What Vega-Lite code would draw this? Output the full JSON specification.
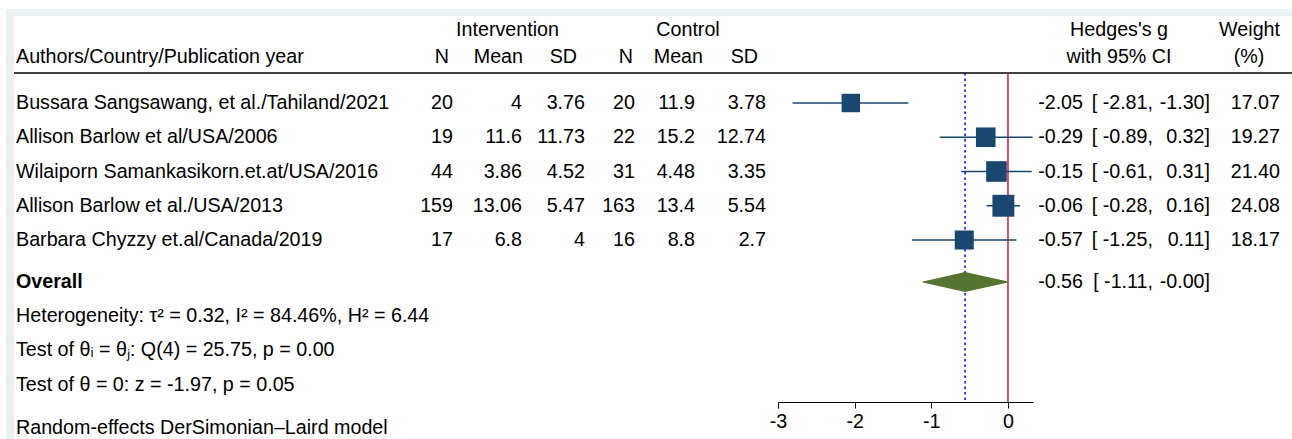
{
  "$schema": "https://vega.github.io/schema/vega-lite/v6.json",
  "background": "#FFFFFF",
  "padding": {"top": 9, "left": 6, "right": 0, "bottom": 0},
  "spacing": 0,
  "bounds": "flush",
  "config": {
    "view": {"stroke": null},
    "text": {"font": "Liberation Sans", "fontSize": 19.7, "color": "#000000", "baseline": "middle"}
  },
  "datasets": {
    "studies": [
      {"row": "s1", "study": "Bussara Sangsawang, et al./Tahiland/2021", "n1": "20", "m1": "4", "sd1": "3.76", "n2": "20", "m2": "11.9", "sd2": "3.78", "g": -2.05, "lo": -2.81, "hi": -1.30, "w": 17.07, "gs": "-2.05", "los": "[ -2.81,", "his": "-1.30]", "ws": "17.07"},
      {"row": "s2", "study": "Allison Barlow et al/USA/2006", "n1": "19", "m1": "11.6", "sd1": "11.73", "n2": "22", "m2": "15.2", "sd2": "12.74", "g": -0.29, "lo": -0.89, "hi": 0.32, "w": 19.27, "gs": "-0.29", "los": "[ -0.89,", "his": "0.32]", "ws": "19.27"},
      {"row": "s3", "study": "Wilaiporn Samankasikorn.et.at/USA/2016", "n1": "44", "m1": "3.86", "sd1": "4.52", "n2": "31", "m2": "4.48", "sd2": "3.35", "g": -0.15, "lo": -0.61, "hi": 0.31, "w": 21.40, "gs": "-0.15", "los": "[ -0.61,", "his": "0.31]", "ws": "21.40"},
      {"row": "s4", "study": "Allison Barlow et al./USA/2013", "n1": "159", "m1": "13.06", "sd1": "5.47", "n2": "163", "m2": "13.4", "sd2": "5.54", "g": -0.06, "lo": -0.28, "hi": 0.16, "w": 24.08, "gs": "-0.06", "los": "[ -0.28,", "his": "0.16]", "ws": "24.08"},
      {"row": "s5", "study": "Barbara Chyzzy et.al/Canada/2019", "n1": "17", "m1": "6.8", "sd1": "4", "n2": "16", "m2": "8.8", "sd2": "2.7", "g": -0.57, "lo": -1.25, "hi": 0.11, "w": 18.17, "gs": "-0.57", "los": "[ -1.25,", "his": "0.11]", "ws": "18.17"}
    ],
    "overall": [
      {"row": "ov", "study": "Overall", "g": -0.56, "lo": -1.11, "hi": 0, "gs": "-0.56", "los": "[ -1.11,", "his": "-0.00]"}
    ],
    "notes": [
      {"row": "het", "text": "Heterogeneity: τ² = 0.32, I² = 84.46%, H² = 6.44"},
      {"row": "t1", "text": "Test of θᵢ = θⱼ: Q(4) = 25.75, p = 0.00"},
      {"row": "t2", "text": "Test of θ = 0: z = -1.97, p = 0.05"}
    ],
    "model": [
      {"row": "mod", "text": "Random-effects DerSimonian–Laird model"}
    ]
  },
  "hconcat": [
    {"width": 8, "height": 430, "view": {"fill": "#EAF1F3", "stroke": null}, "data": {"values": []}, "mark": "point"},
    {
      "spacing": 0,
      "bounds": "flush",
      "vconcat": [
        {"width": 1278, "height": 7, "view": {"fill": "#EAF1F3", "stroke": null}, "data": {"values": []}, "mark": "point"},
        {
          "spacing": 0,
          "bounds": "flush",
          "hconcat": [
            {
              "width": 386, "height": 423,
              "layer": [
                {"data": {"values": [{"row": "h2"}]}, "mark": {"type": "rule", "color": "#000000", "strokeWidth": 1.5, "yOffset": 4.25}, "encoding": {"y": {"field": "row", "type": "nominal", "scale": {"type": "point", "domain": ["h1","h2","s1","s2","s3","s4","s5","ov","het","t1","t2","mod"], "range": [18.5, 395.25], "padding": 0}, "axis": null}}},
                {"data": {"values": [{"row": "h2", "label": "Authors/Country/Publication year"}]}, "mark": {"type": "text", "align": "left", "dx": 2, "dy": -11.75}, "encoding": {"x": {"datum": "L", "type": "nominal", "scale": {"type": "point", "domain": ["L"], "padding": 0, "align": 0}, "axis": null}, "y": {"field": "row", "type": "nominal", "scale": {"type": "point", "domain": ["h1","h2","s1","s2","s3","s4","s5","ov","het","t1","t2","mod"], "range": [18.5, 395.25], "padding": 0}, "axis": null}, "text": {"field": "label"}}},
                {"data": {"name": "studies"}, "mark": {"type": "text", "align": "left", "dx": 2}, "encoding": {"x": {"datum": "L", "type": "nominal", "scale": {"type": "point", "domain": ["L"], "padding": 0, "align": 0}, "axis": null}, "y": {"field": "row", "type": "nominal", "scale": {"type": "point", "domain": ["h1","h2","s1","s2","s3","s4","s5","ov","het","t1","t2","mod"], "range": [18.5, 395.25], "padding": 0}, "axis": null}, "text": {"field": "study"}}},
                {"data": {"name": "overall"}, "mark": {"type": "text", "align": "left", "dx": 2, "dy": 7.75, "fontWeight": "bold"}, "encoding": {"x": {"datum": "L", "type": "nominal", "scale": {"type": "point", "domain": ["L"], "padding": 0, "align": 0}, "axis": null}, "y": {"field": "row", "type": "nominal", "scale": {"type": "point", "domain": ["h1","h2","s1","s2","s3","s4","s5","ov","het","t1","t2","mod"], "range": [18.5, 395.25], "padding": 0}, "axis": null}, "text": {"field": "study"}}},
                {"data": {"name": "notes"}, "mark": {"type": "text", "align": "left", "dx": 2, "dy": 7.5}, "encoding": {"x": {"datum": "L", "type": "nominal", "scale": {"type": "point", "domain": ["L"], "padding": 0, "align": 0}, "axis": null}, "y": {"field": "row", "type": "nominal", "scale": {"type": "point", "domain": ["h1","h2","s1","s2","s3","s4","s5","ov","het","t1","t2","mod"], "range": [18.5, 395.25], "padding": 0}, "axis": null}, "text": {"field": "text"}}},
                {"data": {"name": "model"}, "mark": {"type": "text", "align": "left", "dx": 2, "dy": 16.5}, "encoding": {"x": {"datum": "L", "type": "nominal", "scale": {"type": "point", "domain": ["L"], "padding": 0, "align": 0}, "axis": null}, "y": {"field": "row", "type": "nominal", "scale": {"type": "point", "domain": ["h1","h2","s1","s2","s3","s4","s5","ov","het","t1","t2","mod"], "range": [18.5, 395.25], "padding": 0}, "axis": null}, "text": {"field": "text"}}}
              ]
            },
            {
              "width": 53, "height": 423,
              "layer": [
                {"data": {"values": [{"row": "h2"}]}, "mark": {"type": "rule", "color": "#000000", "strokeWidth": 1.5, "yOffset": 4.25}, "encoding": {"y": {"field": "row", "type": "nominal", "scale": {"type": "point", "domain": ["h1","h2","s1","s2","s3","s4","s5","ov","het","t1","t2","mod"], "range": [18.5, 395.25], "padding": 0}, "axis": null}}},
                {"data": {"values": [{"row": "h2", "label": "N"}]}, "mark": {"type": "text", "align": "right", "dx": -4, "dy": -11.75}, "encoding": {"x": {"value": "width"}, "y": {"field": "row", "type": "nominal", "scale": {"type": "point", "domain": ["h1","h2","s1","s2","s3","s4","s5","ov","het","t1","t2","mod"], "range": [18.5, 395.25], "padding": 0}, "axis": null}, "text": {"field": "label"}}},
                {"data": {"name": "studies"}, "mark": {"type": "text", "align": "right"}, "encoding": {"x": {"value": "width"}, "y": {"field": "row", "type": "nominal", "scale": {"type": "point", "domain": ["h1","h2","s1","s2","s3","s4","s5","ov","het","t1","t2","mod"], "range": [18.5, 395.25], "padding": 0}, "axis": null}, "text": {"field": "n1"}}}
              ]
            },
            {
              "width": 69, "height": 423,
              "layer": [
                {"data": {"values": [{"row": "h2"}]}, "mark": {"type": "rule", "color": "#000000", "strokeWidth": 1.5, "yOffset": 4.25}, "encoding": {"y": {"field": "row", "type": "nominal", "scale": {"type": "point", "domain": ["h1","h2","s1","s2","s3","s4","s5","ov","het","t1","t2","mod"], "range": [18.5, 395.25], "padding": 0}, "axis": null}}},
                {"data": {"values": [{"row": "h1", "label": "Intervention"}]}, "mark": {"type": "text", "align": "center", "dx": -14.5, "dy": -4.5}, "encoding": {"x": {"value": "width"}, "y": {"field": "row", "type": "nominal", "scale": {"type": "point", "domain": ["h1","h2","s1","s2","s3","s4","s5","ov","het","t1","t2","mod"], "range": [18.5, 395.25], "padding": 0}, "axis": null}, "text": {"field": "label"}}},
                {"data": {"values": [{"row": "h2", "label": "Mean"}]}, "mark": {"type": "text", "align": "right", "dx": 1, "dy": -11.75}, "encoding": {"x": {"value": "width"}, "y": {"field": "row", "type": "nominal", "scale": {"type": "point", "domain": ["h1","h2","s1","s2","s3","s4","s5","ov","het","t1","t2","mod"], "range": [18.5, 395.25], "padding": 0}, "axis": null}, "text": {"field": "label"}}},
                {"data": {"name": "studies"}, "mark": {"type": "text", "align": "right"}, "encoding": {"x": {"value": "width"}, "y": {"field": "row", "type": "nominal", "scale": {"type": "point", "domain": ["h1","h2","s1","s2","s3","s4","s5","ov","het","t1","t2","mod"], "range": [18.5, 395.25], "padding": 0}, "axis": null}, "text": {"field": "m1"}}}
              ]
            },
            {
              "width": 63, "height": 423,
              "layer": [
                {"data": {"values": [{"row": "h2"}]}, "mark": {"type": "rule", "color": "#000000", "strokeWidth": 1.5, "yOffset": 4.25}, "encoding": {"y": {"field": "row", "type": "nominal", "scale": {"type": "point", "domain": ["h1","h2","s1","s2","s3","s4","s5","ov","het","t1","t2","mod"], "range": [18.5, 395.25], "padding": 0}, "axis": null}}},
                {"data": {"values": [{"row": "h2", "label": "SD"}]}, "mark": {"type": "text", "align": "right", "dx": -8, "dy": -11.75}, "encoding": {"x": {"value": "width"}, "y": {"field": "row", "type": "nominal", "scale": {"type": "point", "domain": ["h1","h2","s1","s2","s3","s4","s5","ov","het","t1","t2","mod"], "range": [18.5, 395.25], "padding": 0}, "axis": null}, "text": {"field": "label"}}},
                {"data": {"name": "studies"}, "mark": {"type": "text", "align": "right"}, "encoding": {"x": {"value": "width"}, "y": {"field": "row", "type": "nominal", "scale": {"type": "point", "domain": ["h1","h2","s1","s2","s3","s4","s5","ov","het","t1","t2","mod"], "range": [18.5, 395.25], "padding": 0}, "axis": null}, "text": {"field": "sd1"}}}
              ]
            },
            {
              "width": 50, "height": 423,
              "layer": [
                {"data": {"values": [{"row": "h2"}]}, "mark": {"type": "rule", "color": "#000000", "strokeWidth": 1.5, "yOffset": 4.25}, "encoding": {"y": {"field": "row", "type": "nominal", "scale": {"type": "point", "domain": ["h1","h2","s1","s2","s3","s4","s5","ov","het","t1","t2","mod"], "range": [18.5, 395.25], "padding": 0}, "axis": null}}},
                {"data": {"values": [{"row": "h2", "label": "N"}]}, "mark": {"type": "text", "align": "right", "dx": -2, "dy": -11.75}, "encoding": {"x": {"value": "width"}, "y": {"field": "row", "type": "nominal", "scale": {"type": "point", "domain": ["h1","h2","s1","s2","s3","s4","s5","ov","het","t1","t2","mod"], "range": [18.5, 395.25], "padding": 0}, "axis": null}, "text": {"field": "label"}}},
                {"data": {"name": "studies"}, "mark": {"type": "text", "align": "right"}, "encoding": {"x": {"value": "width"}, "y": {"field": "row", "type": "nominal", "scale": {"type": "point", "domain": ["h1","h2","s1","s2","s3","s4","s5","ov","het","t1","t2","mod"], "range": [18.5, 395.25], "padding": 0}, "axis": null}, "text": {"field": "n2"}}}
              ]
            },
            {
              "width": 60, "height": 423,
              "layer": [
                {"data": {"values": [{"row": "h2"}]}, "mark": {"type": "rule", "color": "#000000", "strokeWidth": 1.5, "yOffset": 4.25}, "encoding": {"y": {"field": "row", "type": "nominal", "scale": {"type": "point", "domain": ["h1","h2","s1","s2","s3","s4","s5","ov","het","t1","t2","mod"], "range": [18.5, 395.25], "padding": 0}, "axis": null}}},
                {"data": {"values": [{"row": "h1", "label": "Control"}]}, "mark": {"type": "text", "align": "center", "dx": -7, "dy": -4.5}, "encoding": {"x": {"value": "width"}, "y": {"field": "row", "type": "nominal", "scale": {"type": "point", "domain": ["h1","h2","s1","s2","s3","s4","s5","ov","het","t1","t2","mod"], "range": [18.5, 395.25], "padding": 0}, "axis": null}, "text": {"field": "label"}}},
                {"data": {"values": [{"row": "h2", "label": "Mean"}]}, "mark": {"type": "text", "align": "right", "dx": 8, "dy": -11.75}, "encoding": {"x": {"value": "width"}, "y": {"field": "row", "type": "nominal", "scale": {"type": "point", "domain": ["h1","h2","s1","s2","s3","s4","s5","ov","het","t1","t2","mod"], "range": [18.5, 395.25], "padding": 0}, "axis": null}, "text": {"field": "label"}}},
                {"data": {"name": "studies"}, "mark": {"type": "text", "align": "right"}, "encoding": {"x": {"value": "width"}, "y": {"field": "row", "type": "nominal", "scale": {"type": "point", "domain": ["h1","h2","s1","s2","s3","s4","s5","ov","het","t1","t2","mod"], "range": [18.5, 395.25], "padding": 0}, "axis": null}, "text": {"field": "m2"}}}
              ]
            },
            {
              "width": 83, "height": 423,
              "layer": [
                {"data": {"values": [{"row": "h2"}]}, "mark": {"type": "rule", "color": "#000000", "strokeWidth": 1.5, "yOffset": 4.25}, "encoding": {"y": {"field": "row", "type": "nominal", "scale": {"type": "point", "domain": ["h1","h2","s1","s2","s3","s4","s5","ov","het","t1","t2","mod"], "range": [18.5, 395.25], "padding": 0}, "axis": null}}},
                {"data": {"values": [{"row": "h2", "label": "SD"}]}, "mark": {"type": "text", "align": "right", "dx": -20, "dy": -11.75}, "encoding": {"x": {"value": "width"}, "y": {"field": "row", "type": "nominal", "scale": {"type": "point", "domain": ["h1","h2","s1","s2","s3","s4","s5","ov","het","t1","t2","mod"], "range": [18.5, 395.25], "padding": 0}, "axis": null}, "text": {"field": "label"}}},
                {"data": {"name": "studies"}, "mark": {"type": "text", "align": "right", "dx": -12}, "encoding": {"x": {"value": "width"}, "y": {"field": "row", "type": "nominal", "scale": {"type": "point", "domain": ["h1","h2","s1","s2","s3","s4","s5","ov","het","t1","t2","mod"], "range": [18.5, 395.25], "padding": 0}, "axis": null}, "text": {"field": "sd2"}}}
              ]
            },
            {
              "width": 255, "height": 423,
              "layer": [
                {"data": {"values": [{"row": "h2"}]}, "mark": {"type": "rule", "color": "#000000", "strokeWidth": 1.5, "yOffset": 4.25}, "encoding": {"y": {"field": "row", "type": "nominal", "scale": {"type": "point", "domain": ["h1","h2","s1","s2","s3","s4","s5","ov","het","t1","t2","mod"], "range": [18.5, 395.25], "padding": 0}, "axis": null}}},
                {"data": {"values": [{}]}, "mark": {"type": "rule", "color": "#DC143C", "strokeWidth": 1.5, "yOffset": 4.25, "y2Offset": 25}, "encoding": {"x": {"datum": 0, "type": "quantitative", "scale": {"domain": [-3, 0.3265], "nice": false, "zero": false}}, "y": {"datum": "h2", "type": "nominal", "scale": {"type": "point", "domain": ["h1","h2","s1","s2","s3","s4","s5","ov","het","t1","t2","mod"], "range": [18.5, 395.25], "padding": 0}, "axis": null}, "y2": {"datum": "t2"}}},
                {"data": {"name": "overall"}, "mark": {"type": "rule", "color": "#0000FF", "strokeWidth": 1.5, "strokeDash": [2.5, 3], "yOffset": 4.25, "y2Offset": 25}, "encoding": {"x": {"field": "g", "type": "quantitative", "scale": {"domain": [-3, 0.3265], "nice": false, "zero": false}}, "y": {"datum": "h2", "type": "nominal", "scale": {"type": "point", "domain": ["h1","h2","s1","s2","s3","s4","s5","ov","het","t1","t2","mod"], "range": [18.5, 395.25], "padding": 0}, "axis": null}, "y2": {"datum": "t2"}}},
                {"data": {"name": "studies"}, "mark": {"type": "rule", "color": "#1A476F", "strokeWidth": 1.5}, "encoding": {"x": {"field": "lo", "type": "quantitative", "scale": {"domain": [-3, 0.3265], "nice": false, "zero": false}, "axis": {"values": [-3, -2, -1, 0], "title": null, "grid": false, "offset": -37, "labelFontSize": 19.7, "labelFont": "Liberation Sans", "labelColor": "#000000", "tickColor": "#000000", "domainColor": "#000000", "tickSize": 6, "labelPadding": 3, "labelFlush": false, "labelExpr": "datum.value + ''", "domainWidth": 1, "tickWidth": 1}}, "x2": {"field": "hi"}, "y": {"field": "row", "type": "nominal", "scale": {"type": "point", "domain": ["h1","h2","s1","s2","s3","s4","s5","ov","het","t1","t2","mod"], "range": [18.5, 395.25], "padding": 0}, "axis": null}}},
                {"data": {"name": "studies"}, "mark": {"type": "point", "shape": "square", "filled": true, "color": "#1A476F", "opacity": 1}, "encoding": {"x": {"field": "g", "type": "quantitative", "scale": {"domain": [-3, 0.3265], "nice": false, "zero": false}}, "y": {"field": "row", "type": "nominal", "scale": {"type": "point", "domain": ["h1","h2","s1","s2","s3","s4","s5","ov","het","t1","t2","mod"], "range": [18.5, 395.25], "padding": 0}, "axis": null}, "size": {"field": "w", "type": "quantitative", "scale": {"type": "linear", "domain": [0, 24.08], "range": [0, 480], "zero": true}, "legend": null}}},
                {"data": {"name": "overall"}, "transform": [{"fold": ["lo", "g", "hi"], "as": ["part", "val"]}], "mark": {"type": "trail", "color": "#567431", "yOffset": 7.75}, "encoding": {"x": {"field": "val", "type": "quantitative", "scale": {"domain": [-3, 0.3265], "nice": false, "zero": false}}, "y": {"field": "row", "type": "nominal", "scale": {"type": "point", "domain": ["h1","h2","s1","s2","s3","s4","s5","ov","het","t1","t2","mod"], "range": [18.5, 395.25], "padding": 0}, "axis": null}, "size": {"field": "part", "type": "ordinal", "scale": {"type": "ordinal", "domain": ["lo", "g", "hi"], "range": [0, 20, 0]}, "legend": null}}}
              ]
            },
            {
              "width": 50, "height": 423,
              "layer": [
                {"data": {"values": [{"row": "h2"}]}, "mark": {"type": "rule", "color": "#000000", "strokeWidth": 1.5, "yOffset": 4.25}, "encoding": {"y": {"field": "row", "type": "nominal", "scale": {"type": "point", "domain": ["h1","h2","s1","s2","s3","s4","s5","ov","het","t1","t2","mod"], "range": [18.5, 395.25], "padding": 0}, "axis": null}}},
                {"data": {"name": "studies"}, "mark": {"type": "text", "align": "right"}, "encoding": {"x": {"value": "width"}, "y": {"field": "row", "type": "nominal", "scale": {"type": "point", "domain": ["h1","h2","s1","s2","s3","s4","s5","ov","het","t1","t2","mod"], "range": [18.5, 395.25], "padding": 0}, "axis": null}, "text": {"field": "gs"}}},
                {"data": {"name": "overall"}, "mark": {"type": "text", "align": "right", "dy": 7.75}, "encoding": {"x": {"value": "width"}, "y": {"field": "row", "type": "nominal", "scale": {"type": "point", "domain": ["h1","h2","s1","s2","s3","s4","s5","ov","het","t1","t2","mod"], "range": [18.5, 395.25], "padding": 0}, "axis": null}, "text": {"field": "gs"}}}
              ]
            },
            {
              "width": 70, "height": 423,
              "layer": [
                {"data": {"values": [{"row": "h2"}]}, "mark": {"type": "rule", "color": "#000000", "strokeWidth": 1.5, "yOffset": 4.25}, "encoding": {"y": {"field": "row", "type": "nominal", "scale": {"type": "point", "domain": ["h1","h2","s1","s2","s3","s4","s5","ov","het","t1","t2","mod"], "range": [18.5, 395.25], "padding": 0}, "axis": null}}},
                {"data": {"values": [{"row": "h1", "label": "Hedges's g"}]}, "mark": {"type": "text", "align": "center", "dx": -34, "dy": -4.5}, "encoding": {"x": {"value": "width"}, "y": {"field": "row", "type": "nominal", "scale": {"type": "point", "domain": ["h1","h2","s1","s2","s3","s4","s5","ov","het","t1","t2","mod"], "range": [18.5, 395.25], "padding": 0}, "axis": null}, "text": {"field": "label"}}},
                {"data": {"values": [{"row": "h2", "label": "with 95% CI"}]}, "mark": {"type": "text", "align": "center", "dx": -34, "dy": -11.75}, "encoding": {"x": {"value": "width"}, "y": {"field": "row", "type": "nominal", "scale": {"type": "point", "domain": ["h1","h2","s1","s2","s3","s4","s5","ov","het","t1","t2","mod"], "range": [18.5, 395.25], "padding": 0}, "axis": null}, "text": {"field": "label"}}},
                {"data": {"name": "studies"}, "mark": {"type": "text", "align": "right"}, "encoding": {"x": {"value": "width"}, "y": {"field": "row", "type": "nominal", "scale": {"type": "point", "domain": ["h1","h2","s1","s2","s3","s4","s5","ov","het","t1","t2","mod"], "range": [18.5, 395.25], "padding": 0}, "axis": null}, "text": {"field": "los"}}},
                {"data": {"name": "overall"}, "mark": {"type": "text", "align": "right", "dy": 7.75}, "encoding": {"x": {"value": "width"}, "y": {"field": "row", "type": "nominal", "scale": {"type": "point", "domain": ["h1","h2","s1","s2","s3","s4","s5","ov","het","t1","t2","mod"], "range": [18.5, 395.25], "padding": 0}, "axis": null}, "text": {"field": "los"}}}
              ]
            },
            {
              "width": 57, "height": 423,
              "layer": [
                {"data": {"values": [{"row": "h2"}]}, "mark": {"type": "rule", "color": "#000000", "strokeWidth": 1.5, "yOffset": 4.25}, "encoding": {"y": {"field": "row", "type": "nominal", "scale": {"type": "point", "domain": ["h1","h2","s1","s2","s3","s4","s5","ov","het","t1","t2","mod"], "range": [18.5, 395.25], "padding": 0}, "axis": null}}},
                {"data": {"name": "studies"}, "mark": {"type": "text", "align": "right"}, "encoding": {"x": {"value": "width"}, "y": {"field": "row", "type": "nominal", "scale": {"type": "point", "domain": ["h1","h2","s1","s2","s3","s4","s5","ov","het","t1","t2","mod"], "range": [18.5, 395.25], "padding": 0}, "axis": null}, "text": {"field": "his"}}},
                {"data": {"name": "overall"}, "mark": {"type": "text", "align": "right", "dy": 7.75}, "encoding": {"x": {"value": "width"}, "y": {"field": "row", "type": "nominal", "scale": {"type": "point", "domain": ["h1","h2","s1","s2","s3","s4","s5","ov","het","t1","t2","mod"], "range": [18.5, 395.25], "padding": 0}, "axis": null}, "text": {"field": "his"}}}
              ]
            },
            {
              "width": 82, "height": 423,
              "layer": [
                {"data": {"values": [{"row": "h2"}]}, "mark": {"type": "rule", "color": "#000000", "strokeWidth": 1.5, "yOffset": 4.25}, "encoding": {"y": {"field": "row", "type": "nominal", "scale": {"type": "point", "domain": ["h1","h2","s1","s2","s3","s4","s5","ov","het","t1","t2","mod"], "range": [18.5, 395.25], "padding": 0}, "axis": null}}},
                {"data": {"values": [{"row": "h1", "label": "Weight"}]}, "mark": {"type": "text", "align": "right", "dx": -12, "dy": -4.5}, "encoding": {"x": {"value": "width"}, "y": {"field": "row", "type": "nominal", "scale": {"type": "point", "domain": ["h1","h2","s1","s2","s3","s4","s5","ov","het","t1","t2","mod"], "range": [18.5, 395.25], "padding": 0}, "axis": null}, "text": {"field": "label"}}},
                {"data": {"values": [{"row": "h2", "label": "(%)"}]}, "mark": {"type": "text", "align": "center", "dx": -43, "dy": -11.75}, "encoding": {"x": {"value": "width"}, "y": {"field": "row", "type": "nominal", "scale": {"type": "point", "domain": ["h1","h2","s1","s2","s3","s4","s5","ov","het","t1","t2","mod"], "range": [18.5, 395.25], "padding": 0}, "axis": null}, "text": {"field": "label"}}},
                {"data": {"name": "studies"}, "mark": {"type": "text", "align": "right", "dx": -12}, "encoding": {"x": {"value": "width"}, "y": {"field": "row", "type": "nominal", "scale": {"type": "point", "domain": ["h1","h2","s1","s2","s3","s4","s5","ov","het","t1","t2","mod"], "range": [18.5, 395.25], "padding": 0}, "axis": null}, "text": {"field": "ws"}}}
              ]
            }
          ]
        }
      ]
    }
  ]
}
